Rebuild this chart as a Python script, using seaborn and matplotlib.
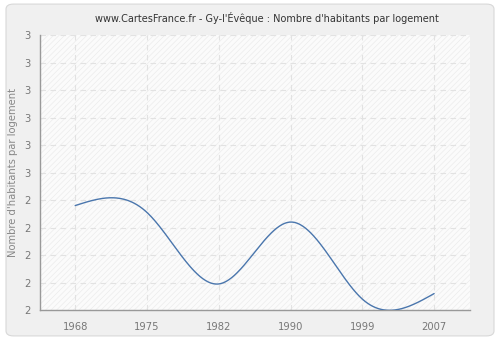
import numpy as np
import pandas as pd
import matplotlib
matplotlib.use("Agg")
import matplotlib.pyplot as plt
import seaborn as sns
from matplotlib.patches import FancyBboxPatch

years = ["1968", "1975", "1982", "1990", "1999", "2007"]
values = [2.38, 2.355, 2.095, 2.32, 2.04, 2.06]
ytick_values = [2.0, 2.1, 2.2, 2.3, 2.4, 2.5, 2.6, 2.7, 2.8, 2.9, 3.0]
ytick_labels = ["2", "2", "2", "2", "2", "3", "3", "3", "3", "3", "3"]
title = "www.CartesFrance.fr - Gy-l'Évêque : Nombre d'habitants par logement"
ylabel = "Nombre d'habitants par logement"


def natural_spline(x, y, n=400):
    x = np.asarray(x, float)
    y = np.asarray(y, float)
    k = len(x)
    h = np.diff(x)
    A = np.zeros((k, k))
    b = np.zeros(k)
    A[0, 0] = 1
    A[-1, -1] = 1
    for i in range(1, k - 1):
        A[i, i - 1] = h[i - 1]
        A[i, i] = 2 * (h[i - 1] + h[i])
        A[i, i + 1] = h[i]
        b[i] = 3 * ((y[i + 1] - y[i]) / h[i] - (y[i] - y[i - 1]) / h[i - 1])
    c = np.linalg.solve(A, b)
    xs = np.linspace(x[0], x[-1], n)
    ys = np.empty_like(xs)
    for j, xv in enumerate(xs):
        i = min(np.searchsorted(x, xv, side="right") - 1, k - 2)
        dx = xv - x[i]
        bi = (y[i + 1] - y[i]) / h[i] - h[i] * (2 * c[i] + c[i + 1]) / 3
        di = (c[i + 1] - c[i]) / (3 * h[i])
        ys[j] = y[i] + bi * dx + c[i] * dx ** 2 + di * dx ** 3
    return xs, ys


sns.set_style("white")
plt.rcParams["font.family"] = ["DejaVu Sans"]
plt.rcParams["hatch.linewidth"] = 0.5
plt.rcParams["hatch.color"] = "#ececec"

fig = plt.figure(figsize=(5, 3.4), dpi=100, facecolor="white")
bg = FancyBboxPatch((0.012, 0.012), 0.976, 0.976, boxstyle="round,pad=0,rounding_size=0.015",
                    transform=fig.transFigure, facecolor="#f0f0f0", edgecolor="#d8d8d8",
                    linewidth=0.8, zorder=-10)
fig.patches.append(bg)

ax = fig.add_axes([0.08, 0.088, 0.86, 0.809])
ax.set_facecolor("#fbfbfb")
ax.patch.set_hatch("//////")
ax.patch.set_edgecolor("#ececec")

idx = np.arange(len(years))
xs, ys = natural_spline(idx, values)
df = pd.DataFrame({"x": xs, "y": ys})
sns.lineplot(data=df, x="x", y="y", ax=ax, color="#4a76ad", linewidth=1.0, zorder=3)

ax.set_xlim(-0.49, 5.5)
ax.set_ylim(2.0, 3.0)
ax.set_xticks(idx)
ax.set_xticklabels(years)
ax.set_yticks(ytick_values)
ax.set_yticklabels(ytick_labels)

ax.grid(True, color="#e2e2e2", linestyle=(0, (5, 4)), linewidth=0.8)
ax.set_axisbelow(True)

for s in ["top", "right"]:
    ax.spines[s].set_visible(False)
for s in ["left", "bottom"]:
    ax.spines[s].set_color("#999999")
    ax.spines[s].set_linewidth(1.0)

ax.tick_params(axis="both", colors="#999999", labelcolor="#777777", labelsize=7.2,
               length=3.5, width=0.8, direction="out")
ax.tick_params(axis="y", pad=3)
ax.tick_params(axis="x", pad=5)
ax.set_xlabel("")
ax.set_ylabel(ylabel, color="#888888", fontsize=7.2)
ax.yaxis.set_label_coords(-0.05, 0.5)
fig.text(0.534, 0.948, title, ha="center", va="center", fontsize=7.0, color="#333333")

fig.savefig("out.png", dpi=100, facecolor=fig.get_facecolor())
